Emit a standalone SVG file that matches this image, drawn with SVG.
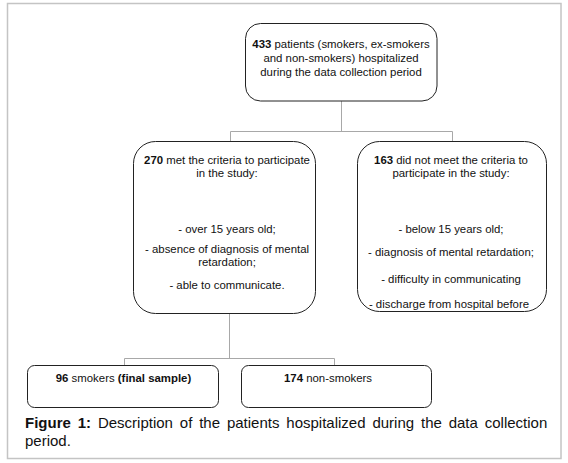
<svg xmlns="http://www.w3.org/2000/svg" width="568" height="463" viewBox="0 0 568 463">
<style>
.box{fill:#fff;stroke:#222;stroke-width:1}
.t{font-family:"Liberation Sans",Arial,sans-serif;font-size:11.4px;fill:#111;text-anchor:middle}
.b{font-weight:bold}
.con{fill:none;stroke:#a8a8a8;stroke-width:1}
.cap{font-family:"Liberation Sans",Arial,sans-serif;font-size:15px;fill:#111}
</style>
<rect x="0" y="0" width="568" height="463" fill="#fff"/>
<rect x="7.5" y="3.5" width="553.5" height="455" fill="none" stroke="#c4c4c4" stroke-width="1.5"/>
<g id="connectors">
<path class="con" d="M341.5 101 V131.5 M230.5 131.5 H452.5 M230.5 131.5 V142 M452.5 131.5 V142"/>
<path class="con" d="M229.5 313 V358.5 M124.5 358.5 H334.5 M124.5 358.5 V366 M334.5 358.5 V366"/>
</g>
<g id="n433">
<rect class="box" x="245.5" y="23.5" width="191.5" height="77.5" rx="15"/>
<text class="t" x="341" y="48"><tspan class="b">433</tspan> patients (smokers, ex-smokers</text>
<text class="t" x="341" y="62">and non-smokers) hospitalized</text>
<text class="t" x="341" y="76">during the data collection period</text>
</g>
<g id="n270">
<rect class="box" x="133.5" y="141.5" width="182" height="172" rx="22"/>
<text class="t" x="227" y="164"><tspan class="b">270</tspan> met the criteria to participate</text>
<text class="t" x="227" y="177">in the study:</text>
<text class="t" x="227" y="233">- over 15 years old;</text>
<text class="t" x="227" y="253">- absence of diagnosis of mental</text>
<text class="t" x="227" y="266">retardation;</text>
<text class="t" x="227" y="289">- able to communicate.</text>
</g>
<g id="n163">
<rect class="box" x="357.5" y="141.5" width="189" height="170" rx="22"/>
<text class="t" x="451" y="164"><tspan class="b">163</tspan> did not meet the criteria to</text>
<text class="t" x="451" y="177">participate in the study:</text>
<text class="t" x="451" y="233">- below 15 years old;</text>
<text class="t" x="451" y="256">- diagnosis of mental retardation;</text>
<text class="t" x="451" y="283">- difficulty in communicating</text>
<text class="t" x="449" y="308">- discharge from hospital before</text>
</g>
<g id="n96">
<rect class="box" x="27.5" y="365.5" width="191" height="42" rx="7"/>
<text class="t" x="123.5" y="382"><tspan class="b">96</tspan> smokers <tspan class="b">(final sample)</tspan></text>
</g>
<g id="n174">
<rect class="box" x="241.5" y="365.5" width="190" height="42" rx="7"/>
<text class="t" x="328" y="382"><tspan class="b">174</tspan> non-smokers</text>
</g>
<g id="caption">
<text class="cap" x="25" y="428" word-spacing="2.7"><tspan font-weight="bold">Figure 1:</tspan> Description of the patients hospitalized during the data collection</text>
<text class="cap" x="25" y="446">period.</text>
</g>
</svg>
